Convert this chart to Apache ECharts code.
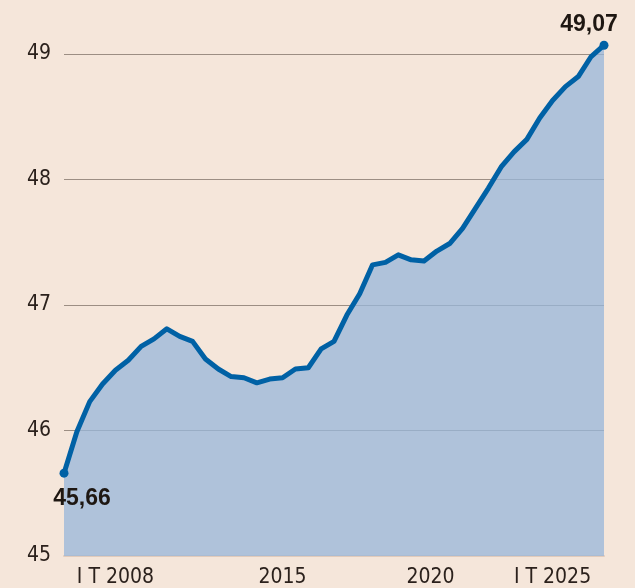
<!DOCTYPE html>
<html>
<head>
<meta charset="utf-8">
<style>
  html, body { margin: 0; padding: 0; background: #f5e6da; }
  #chart { width: 635px; height: 588px; }
</style>
<script src="https://cdn.jsdelivr.net/npm/echarts@6/dist/echarts.min.js"></script>
</head>
<body>
<div id="chart"></div>
<script>
// Series values (one per period, equally spaced)
const values = [
  45.66, 45.99, 46.23, 46.37, 46.48, 46.56, 46.67, 46.73, 46.81, 46.75,
  46.71, 46.57, 46.49, 46.43, 46.42, 46.38, 46.41, 46.42, 46.49, 46.50,
  46.65, 46.71, 46.92, 47.09, 47.32, 47.34, 47.40, 47.36, 47.35, 47.43,
  47.49, 47.61, 47.77, 47.93, 48.10, 48.22, 48.32, 48.49, 48.63, 48.74,
  48.82, 48.98, 49.07
];
// X tick labels and their positions (period index)
const xTickLabels = ['I T 2008', '2015', '2020', 'I T 2025'];
const xTickPositions = [4, 17, 28.5, 38];
// Y ticks
const yMin = 45, yMax = 49, yStep = 1;

const fontNarrow = '"Liberation Sans Narrow", "DejaVu Sans Condensed", "Roboto Condensed", sans-serif';
const fontBold = '"Liberation Sans", Arial, sans-serif';
const fmt = v => v.toFixed(2).replace('.', ',');

const last = values.length - 1;
const seriesData = values.map((v, i) => {
  const item = { value: [i, v] };
  if (i === 0) {
    item.symbol = 'circle';
    item.symbolSize = 9;
    item.label = { show: true, position: 'bottom', distance: 5, offset: [18, 4] };
  } else if (i === last) {
    item.symbol = 'circle';
    item.symbolSize = 9;
    item.label = { show: true, position: 'top', distance: 5, offset: [-15, 0] };
  } else {
    item.symbol = 'none';
  }
  return item;
});

const chart = echarts.init(document.getElementById('chart'), null, { renderer: 'canvas' });
chart.setOption({
  backgroundColor: '#f5e6da',
  animation: false,
  grid: { left: 64, right: 31, top: 54, bottom: 31, containLabel: false },
  xAxis: {
    type: 'value',
    min: 0,
    max: last,
    interval: 0.5,
    axisLine: { show: true, lineStyle: { color: '#e2cbbb', width: 2 } },
    axisTick: { show: false },
    splitLine: { show: false },
    axisLabel: {
      margin: 11,
      color: '#2b211c',
      fontFamily: fontNarrow,
      fontSize: 21,
      showMinLabel: true,
      showMaxLabel: true,
      formatter: v => {
        const k = xTickPositions.findIndex(p => Math.abs(p - v) < 0.01);
        return k >= 0 ? xTickLabels[k] : '';
      }
    }
  },
  yAxis: {
    type: 'value',
    min: yMin,
    max: yMax,
    interval: yStep,
    axisLine: { show: false },
    axisTick: { show: false },
    splitLine: { show: true, lineStyle: { color: '#9c8e83', width: 1 } },
    axisLabel: {
      margin: 13,
      color: '#2b211c',
      fontFamily: fontNarrow,
      fontSize: 21
    }
  },
  series: [{
    type: 'line',
    data: seriesData,
    clip: false,
    lineStyle: { color: '#0061a5', width: 5, join: 'round' },
    itemStyle: { color: '#0061a5' },
    areaStyle: { color: '#98b7da', opacity: 0.76, origin: 'start' },
    label: {
      color: '#1e1712',
      fontFamily: fontBold,
      fontWeight: 'bold',
      fontSize: 23,
      formatter: p => fmt(p.value[1])
    },
    emphasis: { disabled: true },
    z: 3
  }]
});
</script>
</body>
</html>
